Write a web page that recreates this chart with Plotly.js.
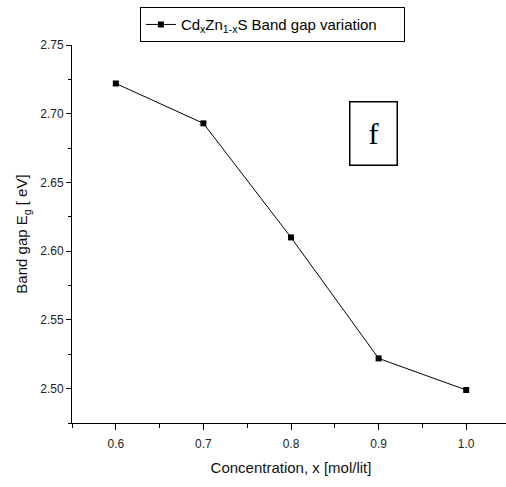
<!DOCTYPE html>
<html>
<head>
<meta charset="utf-8">
<script src="https://cdn.plot.ly/plotly-3.0.1.min.js"></script>
<style>
  html, body { margin: 0; padding: 0; background: #fff; overflow: hidden; }
  #chart { width: 510px; height: 487px; }
</style>
</head>
<body>
<div id="chart"></div>
<script>
// Cd(x)Zn(1-x)S band gap versus Cd concentration
const concentration = [0.6, 0.7, 0.8, 0.9, 1.0];
const bandGap = [2.722, 2.693, 2.610, 2.522, 2.499];
const xTicks = [0.6, 0.7, 0.8, 0.9, 1.0];
const xTickText = ['0.6', '0.7', '0.8', '0.9', '1.0'];
const yTicks = [2.50, 2.55, 2.60, 2.65, 2.70, 2.75];
const yTickText = ['2.50', '2.55', '2.60', '2.65', '2.70', '2.75'];

const font = 'Arial, "Liberation Sans", sans-serif';

const trace = {
  x: concentration,
  y: bandGap,
  type: 'scatter',
  mode: 'lines+markers',
  name: 'Cd<sub>x</sub>Zn<sub>1-x</sub>S Band gap variation',
  line: { color: '#000', width: 1 },
  marker: { symbol: 'square', size: 6, color: '#000' }
};

const layout = {
  width: 510,
  height: 487,
  margin: { l: 72, r: 0, t: 45, b: 64 },
  paper_bgcolor: '#fff',
  plot_bgcolor: '#fff',
  font: { family: font, color: '#111', size: 12 },
  showlegend: true,
  legend: {
    x: 0.155, y: 1.1, xanchor: 'left', yanchor: 'top',
    orientation: 'h', entrywidth: 218, entrywidthmode: 'pixels',
    bordercolor: '#000', borderwidth: 1,
    font: { family: font, size: 15, color: '#000' },
    bgcolor: '#fff'
  },
  xaxis: {
    range: [0.55, 1.05],
    tickvals: xTicks, ticktext: xTickText,
    ticks: 'outside', ticklen: 6, tickwidth: 1, tickcolor: '#000',
    ticklabelstandoff: 4,
    minor: { dtick: 0.05, tick0: 0.55, ticks: 'outside', ticklen: 4, tickcolor: '#000', showgrid: false },
    showline: true, linecolor: '#000', linewidth: 1,
    showgrid: false, zeroline: false,
    tickfont: { family: font, size: 12, color: '#222' },
    title: { text: 'Concentration, x [mol/lit]', font: { family: font, size: 15, color: '#111' }, standoff: 12 }
  },
  yaxis: {
    range: [2.475, 2.75],
    tickvals: yTicks, ticktext: yTickText,
    ticks: 'outside', ticklen: 5, tickwidth: 1, tickcolor: '#000',
    minor: { dtick: 0.025, tick0: 2.475, ticks: 'outside', ticklen: 3, tickcolor: '#000', showgrid: false },
    showline: true, linecolor: '#000', linewidth: 1,
    showgrid: false, zeroline: false,
    tickfont: { family: font, size: 12, color: '#222' },
    title: { text: 'Band gap E<sub>g</sub> [ eV]', font: { family: font, size: 15, color: '#111' }, standoff: 8 }
  },
  annotations: [{
    xref: 'paper', yref: 'paper',
    x: 0.688, y: 0.767, xanchor: 'center', yanchor: 'middle',
    text: 'f', showarrow: false,
    font: { family: '"Liberation Serif", "Times New Roman", serif', size: 30, color: '#000' },
    width: 46, height: 62, borderpad: 0,
    bordercolor: '#000', borderwidth: 1.5, bgcolor: '#fff'
  }]
};

Plotly.newPlot('chart', [trace], layout, { displayModeBar: false, staticPlot: true });
</script>
</body>
</html>
